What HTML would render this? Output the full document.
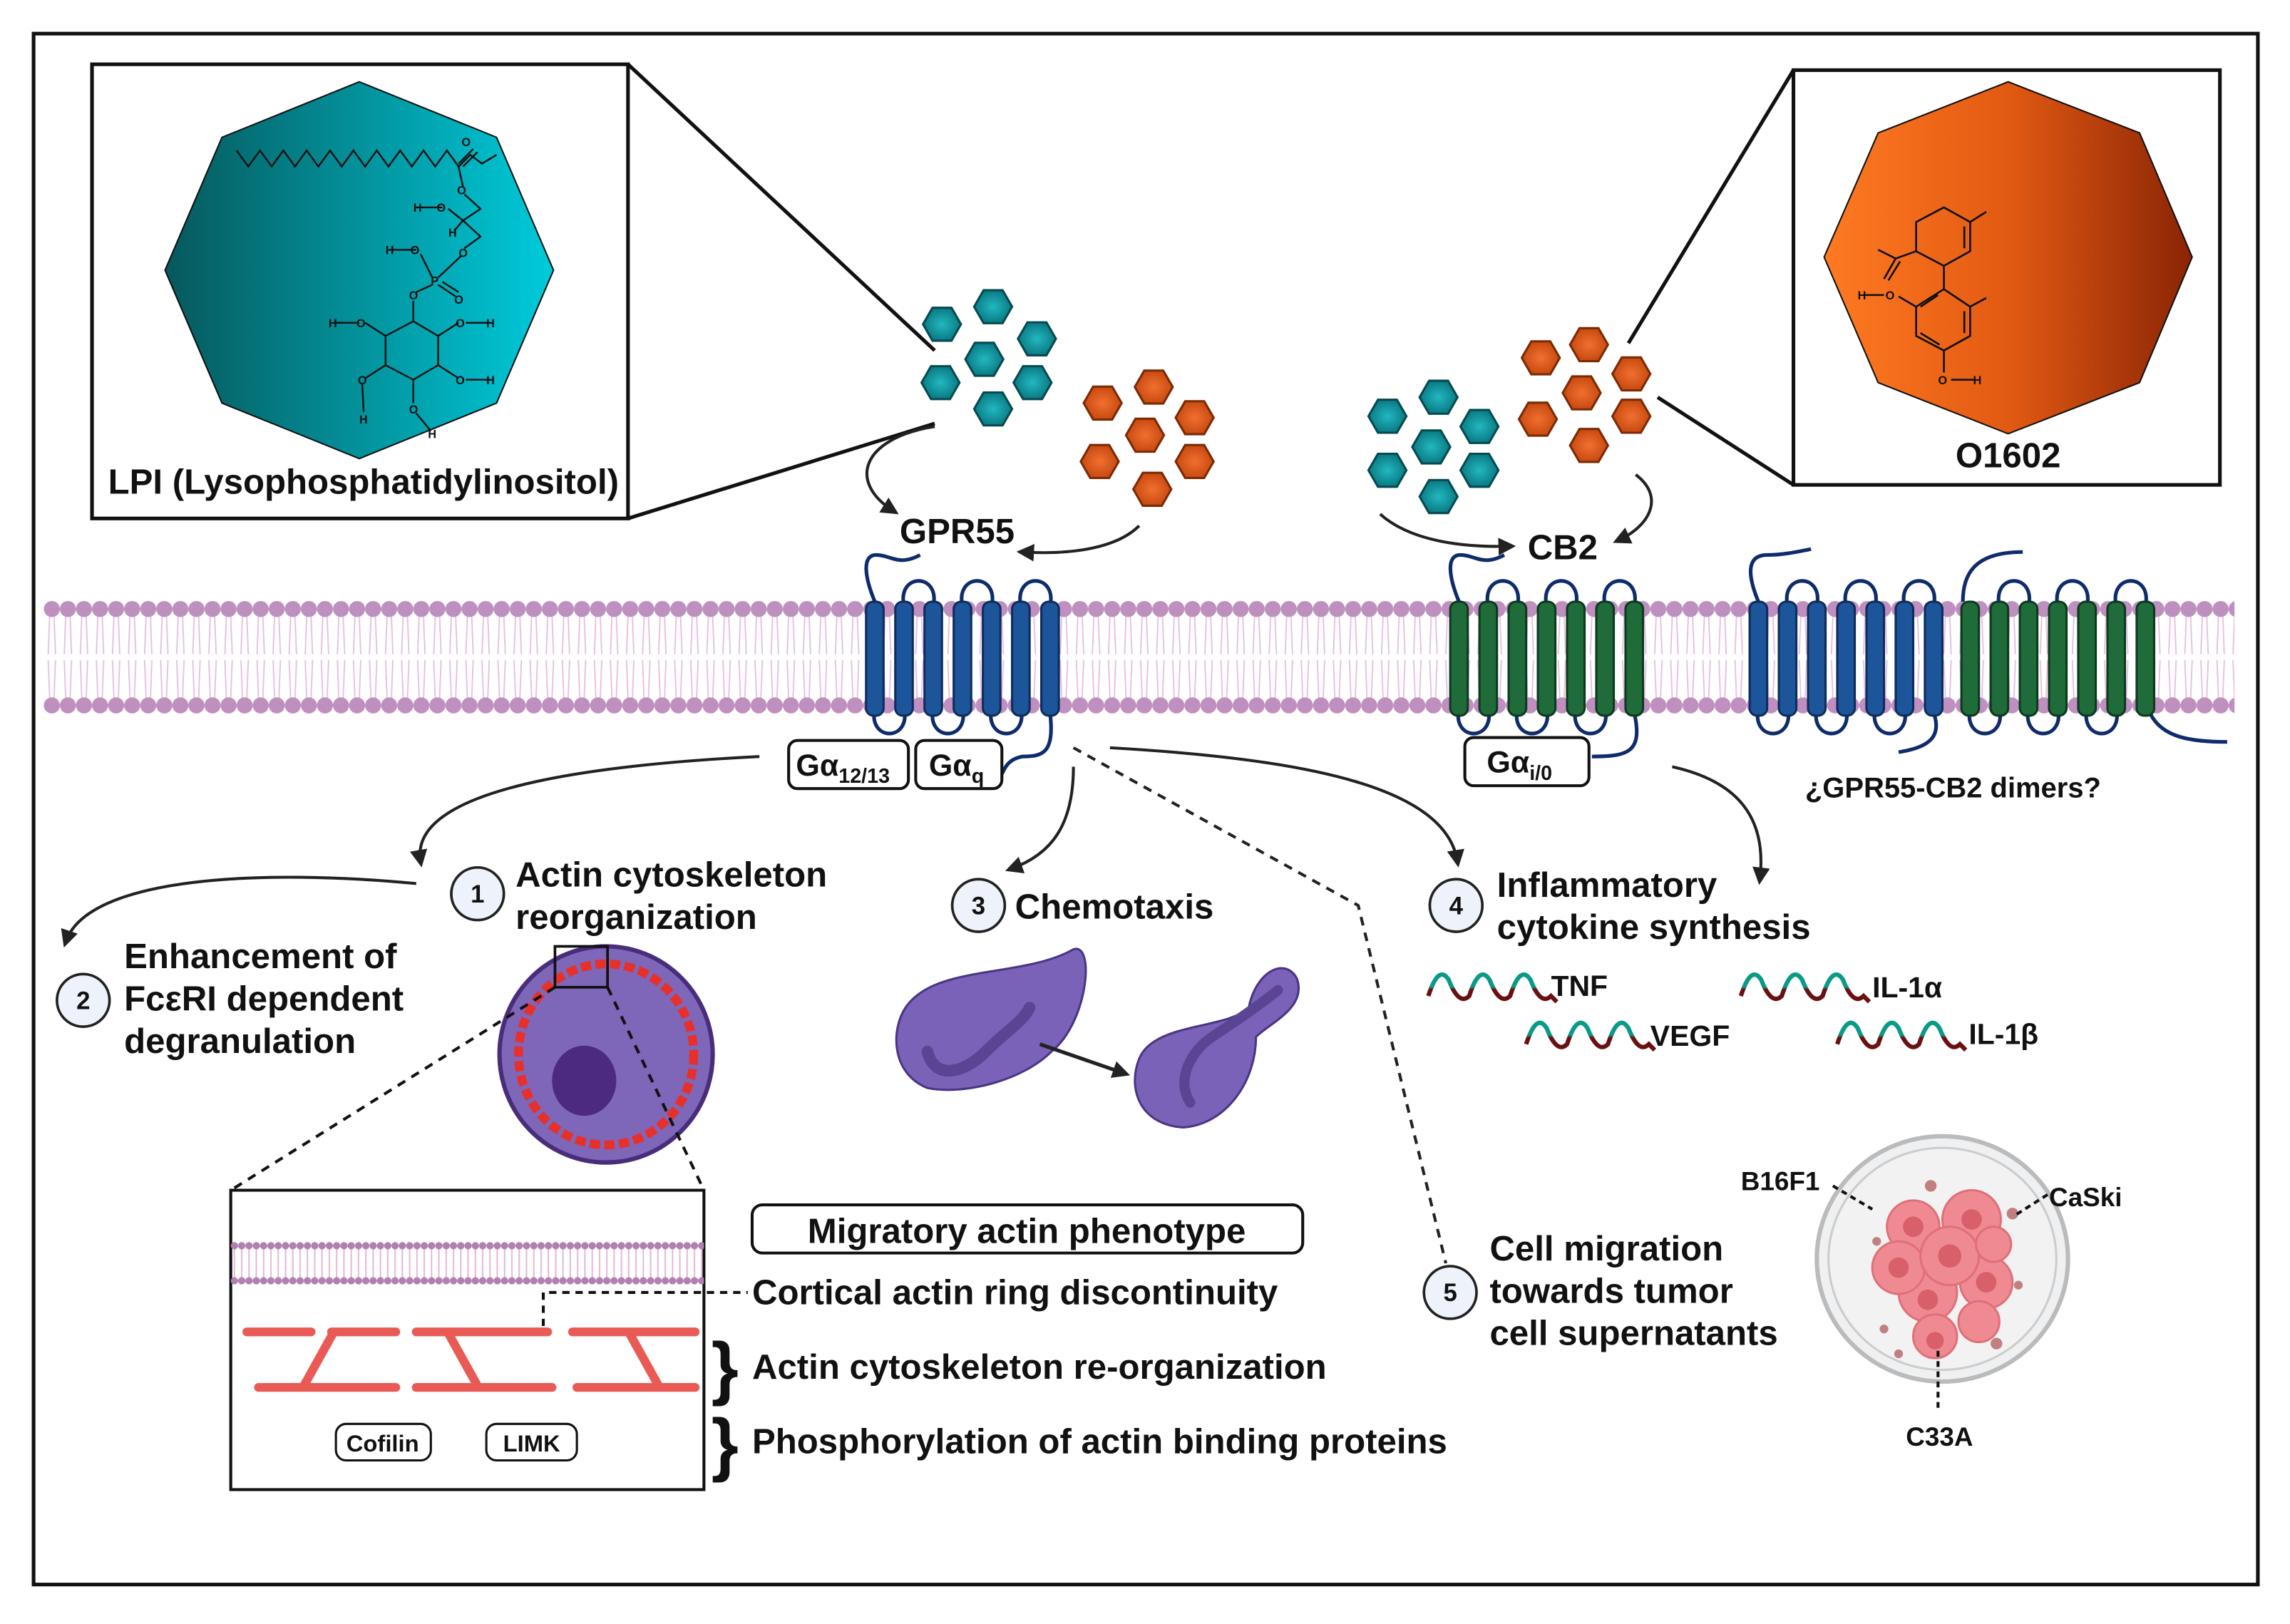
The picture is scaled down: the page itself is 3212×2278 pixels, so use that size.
<!DOCTYPE html>
<html><head><meta charset="utf-8"><style>html,body{margin:0;padding:0;background:#fff}svg{display:block}text{font-family:"Liberation Sans",sans-serif;font-weight:bold;fill:#111}</style></head><body>
<svg width="3212" height="2278" viewBox="0 0 1568 1112" xmlns="http://www.w3.org/2000/svg">
<defs>
<linearGradient id="tg" x1="0" x2="1"><stop offset="0" stop-color="#06585c"/><stop offset="1" stop-color="#00cbdb"/></linearGradient>
<linearGradient id="og" x1="0" x2="1"><stop offset="0" stop-color="#ff7a22"/><stop offset="0.5" stop-color="#e25a12"/><stop offset="1" stop-color="#8a2405"/></linearGradient>
<linearGradient id="wg" x1="0" y1="0" x2="0" y2="1"><stop offset="0.45" stop-color="#0a9a88"/><stop offset="0.55" stop-color="#6a1010"/></linearGradient>
<radialGradient id="hx"><stop offset="0" stop-color="#22b8c0"/><stop offset="1" stop-color="#0a7a84"/></radialGradient>
<radialGradient id="ho"><stop offset="0" stop-color="#f07030"/><stop offset="1" stop-color="#c84a10"/></radialGradient>
<polygon id="h" points="13,0 6.5,11.3 -6.5,11.3 -13,0 -6.5,-11.3 6.5,-11.3"/>
<pattern id="mem" width="11" height="80" patternUnits="userSpaceOnUse" x="30" y="410">
<path d="M4,12 L3,38 M7,12 L8,38 M3,42 L4,68 M8,42 L7,68" stroke="#e6bde0" stroke-width="0.9" fill="none"/>
<circle cx="5.5" cy="7" r="5.5" fill="#bf8fbf"/><circle cx="5.5" cy="73" r="5.5" fill="#bf8fbf"/></pattern>
<pattern id="mem2" width="5" height="30" patternUnits="userSpaceOnUse" x="158" y="850">
<line x1="2.5" y1="4" x2="2.5" y2="26" stroke="#e2b9dc" stroke-width="1"/><circle cx="2.5" cy="3" r="2.5" fill="#b080b0"/><circle cx="2.5" cy="27" r="2.5" fill="#b080b0"/></pattern>
<marker id="ar" markerWidth="12" markerHeight="12" refX="8" refY="6" orient="auto" markerUnits="userSpaceOnUse"><path d="M0,0 L12,6 L0,12 z" fill="#222"/></marker>
<g id="rc">
<path d="M619,415 C614,392 644,392 639,415 M659,415 C654,392 684,392 679,415 M699,415 C694,392 724,392 719,415 M599,485 C594,508 624,508 619,485 M639,485 C634,508 664,508 659,485 M679,485 C674,508 704,508 699,485" stroke="#0e2c6c" stroke-width="2.5" fill="none"/>
</g>
<g id="bars">
<rect x="593" y="412" width="12" height="78" rx="5"/><rect x="613" y="412" width="12" height="78" rx="5"/><rect x="633" y="412" width="12" height="78" rx="5"/><rect x="653" y="412" width="12" height="78" rx="5"/><rect x="673" y="412" width="12" height="78" rx="5"/><rect x="693" y="412" width="12" height="78" rx="5"/><rect x="713" y="412" width="12" height="78" rx="5"/>
</g>
</defs>
<rect x="23" y="23" width="1523" height="1062" fill="none" stroke="#111" stroke-width="2.5"/>
<!-- LPI box -->
<line x1="430" y1="44" x2="640" y2="240" stroke="#111" stroke-width="2.5"/>
<line x1="430" y1="355" x2="640" y2="290" stroke="#111" stroke-width="2.5"/>
<rect x="63" y="44" width="367" height="311" fill="#fff" stroke="#111" stroke-width="2.5"/>
<polygon points="246,56 340,94 379,185 340,276 246,314 152,276 113,185 152,94" fill="url(#tg)" stroke="#111" stroke-width="1"/>
<g stroke="#111" stroke-width="1.2" fill="none">
<path d="M162,103 l8,11 l8,-11 l8,11 l8,-11 l8,11 l8,-11 l8,11 l8,-11 l8,11 l8,-11 l8,11 l8,-11 l8,11 l8,-11 l8,11 l8,-11 l8,11 l8,-11 l8,11 l8,-8 l8,6 l10,-6"/>
<path d="M314,112 l10,-10 M317,114 l10,-10"/>
<path d="M314,114 L317,128 M318,133 L329,143 L317,151 L329,162 L318,170 M317,151 L307,143 M303,142 L285,142 M317,151 L311,158"/>
<path d="M316,175 L300,190 M296,190 L288,174 M285,171 L266,171 M300,195 L312,203 M303,193 L314,200 M296,195 L285,200 M283,206 L283,220"/>
<path d="M283,220 L300,230 L300,250 L283,260 L264,250 L264,230 Z"/>
<path d="M300,230 L314,221 M319,221 L336,221 M264,230 L250,221 M246,221 L229,221 M300,250 L314,259 M319,260 L336,260 M264,250 L250,259 M248,263 L249,282 M283,260 L283,276 M285,283 L295,295"/></g>
<g font-size="8" font-weight="bold"><text x="316" y="100">O</text><text x="313" y="133">O</text><text x="283" y="145">H</text><text x="299" y="145">O</text><text x="307" y="162">H</text><text x="264" y="174">H</text><text x="281" y="174">O</text><text x="314" y="176">O</text><text x="295" y="195">P</text><text x="311" y="208">O</text><text x="280" y="205">O</text><text x="312" y="224">O</text><text x="333" y="224">H</text><text x="244" y="224">O</text><text x="225" y="224">H</text><text x="312" y="263">O</text><text x="333" y="263">H</text><text x="245" y="263">O</text><text x="246" y="290">H</text><text x="280" y="283">O</text><text x="293" y="300">H</text></g>
<text x="74" y="338" font-size="24">LPI (Lysophosphatidylinositol)</text>
<!-- O1602 box -->
<line x1="1228" y1="48" x2="1115" y2="235" stroke="#111" stroke-width="2.5"/>
<line x1="1228" y1="332" x2="1135" y2="272" stroke="#111" stroke-width="2.5"/>
<rect x="1228" y="48" width="292" height="284" fill="#fff" stroke="#111" stroke-width="2.5"/>
<polygon points="1375,56 1465,91 1501,176 1465,262 1375,297 1286,262 1249,176 1286,91" fill="url(#og)" stroke="#111" stroke-width="1"/>
<g stroke="#111" stroke-width="1.3" fill="none">
<path d="M1331,142 L1349,152 L1349,172 L1331,182 L1312,172 L1312,152 Z M1345,155 L1345,170 M1349,152 L1360,145 M1331,182 L1331,198"/>
<path d="M1331,198 L1349,210 L1349,230 L1331,240 L1312,230 L1312,210 Z M1327,202 L1315,210 M1345,213 L1345,228 M1328,236 L1315,228 M1349,210 L1360,204 M1312,210 L1300,203 M1290,202 L1276,202 M1331,240 L1331,255 M1336,260 L1352,260"/>
<path d="M1312,172 L1298,177 L1286,171 M1298,177 L1290,191 M1301,179 L1293,192"/></g>
<g font-size="8"><text x="1291" y="205">O</text><text x="1272" y="205">H</text><text x="1327" y="263">O</text><text x="1351" y="263">H</text></g>
<text x="1375" y="320" font-size="24" text-anchor="middle">O1602</text>
<!-- hexagons -->
<g fill="url(#hx)" stroke="#064a50" stroke-width="1.5">
<use href="#h" x="645" y="222"/><use href="#h" x="680" y="210"/><use href="#h" x="710" y="232"/><use href="#h" x="674" y="246"/><use href="#h" x="644" y="262"/><use href="#h" x="707" y="262"/><use href="#h" x="680" y="280"/>
<use href="#h" x="950" y="285"/><use href="#h" x="985" y="272"/><use href="#h" x="1013" y="292"/><use href="#h" x="980" y="306"/><use href="#h" x="950" y="322"/><use href="#h" x="1013" y="322"/><use href="#h" x="985" y="340"/></g>
<g fill="url(#ho)" stroke="#7a2a05" stroke-width="1.5">
<use href="#h" x="755" y="276"/><use href="#h" x="790" y="265"/><use href="#h" x="818" y="286"/><use href="#h" x="784" y="298"/><use href="#h" x="753" y="316"/><use href="#h" x="818" y="316"/><use href="#h" x="789" y="335"/>
<use href="#h" x="1055" y="245"/><use href="#h" x="1088" y="236"/><use href="#h" x="1117" y="256"/><use href="#h" x="1083" y="269"/><use href="#h" x="1053" y="287"/><use href="#h" x="1117" y="285"/><use href="#h" x="1088" y="305"/></g>
<g stroke="#222" stroke-width="2" fill="none" marker-end="url(#ar)">
<path d="M640,292 C590,300 580,330 612,350"/><path d="M780,360 C765,375 735,380 700,378"/>
<path d="M945,352 C965,370 1000,375 1034,374"/><path d="M1120,325 C1140,340 1130,360 1108,370"/></g>
<text x="616" y="372" font-size="24">GPR55</text>
<text x="1046" y="383" font-size="24">CB2</text>
<!-- membrane -->
<rect x="30" y="410" width="1500" height="80" fill="url(#mem)"/>
<!-- termini -->
<g stroke="#0e2c6c" stroke-width="2.5" fill="none">
<path d="M599,412 C592,395 590,380 600,380 C610,380 615,388 630,380"/><path d="M719,488 C722,515 715,518 700,518 C690,520 688,526 686,530"/>
<path d="M999,412 C992,395 990,380 1000,380 C1010,380 1015,388 1030,380"/><path d="M1119,488 C1125,515 1115,518 1090,518"/>
<path d="M1204,412 C1197,395 1195,380 1210,380 C1220,380 1230,378 1240,376"/><path d="M1344,412 C1344,395 1350,378 1385,378"/>
<path d="M1472,488 C1480,505 1500,508 1525,508"/><path d="M1324,488 C1330,505 1320,512 1300,515"/>
</g>
<use href="#rc"/><g fill="#1c5599" stroke="#0e2c5c" stroke-width="1.5"><use href="#bars"/></g>
<g transform="translate(400,0)"><use href="#rc"/><g fill="#1f6b3a" stroke="#0c3a1e" stroke-width="1.5"><use href="#bars"/></g></g>
<g transform="translate(605,0)"><use href="#rc"/><g fill="#1c5599" stroke="#0e2c5c" stroke-width="1.5"><use href="#bars"/></g></g>
<g transform="translate(750,0)"><use href="#rc"/><g fill="#1f6b3a" stroke="#0c3a1e" stroke-width="1.5"><use href="#bars"/></g></g>
<!-- G alpha boxes -->
<g fill="#fff" stroke="#111" stroke-width="2"><rect x="540" y="507" width="82" height="33" rx="6"/><rect x="627" y="507" width="59" height="33" rx="6"/><rect x="1003" y="505" width="85" height="33" rx="6"/></g>
<text x="545" y="531" font-size="21">Gα<tspan font-size="14" dy="5">12/13</tspan></text>
<text x="636" y="531" font-size="21">Gα<tspan font-size="14" dy="5">q</tspan></text>
<text x="1018" y="529" font-size="21">Gα<tspan font-size="14" dy="5">i/0</tspan></text>
<text x="1236" y="546" font-size="19.5">¿GPR55-CB2 dimers?</text>
<!-- pathway arrows -->
<g stroke="#222" stroke-width="2" fill="none" marker-end="url(#ar)">
<path d="M520,518 C380,525 280,545 288,590"/><path d="M285,605 C180,595 60,600 45,645"/>
<path d="M735,525 C735,565 720,585 692,595"/><path d="M760,512 C900,520 990,540 998,590"/>
<path d="M1145,525 C1190,535 1210,560 1205,602"/></g>
<path d="M735,512 L930,620 L990,865" stroke="#222" stroke-width="2" fill="none" stroke-dasharray="6,5"/>
<!-- numbered circles -->
<g fill="#eef3fb" stroke="#222" stroke-width="1.8"><circle cx="327" cy="612" r="18"/><circle cx="57" cy="685" r="18"/><circle cx="670" cy="620" r="18"/><circle cx="997" cy="620" r="18"/><circle cx="993" cy="885" r="18"/></g>
<g font-size="17" text-anchor="middle"><text x="327" y="618">1</text><text x="57" y="691">2</text><text x="670" y="626">3</text><text x="997" y="626">4</text><text x="993" y="891">5</text></g>
<g font-size="24">
<text x="353" y="607">Actin cytoskeleton</text><text x="353" y="636">reorganization</text>
<text x="85" y="663">Enhancement of</text><text x="85" y="692">FcεRI dependent</text><text x="85" y="721">degranulation</text>
<text x="695" y="629">Chemotaxis</text>
<text x="1025" y="614">Inflammatory</text><text x="1025" y="643">cytokine synthesis</text>
<text x="1020" y="863">Cell migration</text><text x="1020" y="892">towards tumor</text><text x="1020" y="921">cell supernatants</text>
</g>
<!-- actin cell -->
<ellipse cx="415" cy="722" rx="73" ry="74" fill="#7e66b8" stroke="#4a2d7a" stroke-width="3"/>
<ellipse cx="415" cy="722" rx="60" ry="62" fill="none" stroke="#e8302a" stroke-width="6" stroke-dasharray="7,3"/>
<ellipse cx="400" cy="740" rx="22" ry="24" fill="#4c2a80"/>
<rect x="380" y="648" width="36" height="28" fill="none" stroke="#111" stroke-width="1.8"/>
<g stroke="#111" stroke-width="2" stroke-dasharray="6,5"><line x1="380" y1="676" x2="158" y2="815"/><line x1="416" y1="676" x2="482" y2="815"/></g>
<!-- inset -->
<rect x="158" y="815" width="324" height="205" fill="#fff" stroke="#111" stroke-width="2"/>
<rect x="158" y="850" width="324" height="30" fill="url(#mem2)"/>
<g stroke="#ea5a55" stroke-width="6" stroke-linecap="round">
<line x1="169" y1="912" x2="213" y2="912"/><line x1="227" y1="912" x2="271" y2="912"/><line x1="285" y1="912" x2="375" y2="912"/><line x1="392" y1="912" x2="476" y2="912"/>
<line x1="177" y1="950" x2="271" y2="950"/><line x1="285" y1="950" x2="378" y2="950"/><line x1="395" y1="950" x2="476" y2="950"/>
<line x1="228" y1="913" x2="208" y2="949"/><line x1="307" y1="913" x2="327" y2="949"/><line x1="431" y1="913" x2="451" y2="949"/></g>
<path d="M372,908 L372,885 L512,885" stroke="#111" stroke-width="2" fill="none" stroke-dasharray="5,4"/>
<rect x="230" y="975" width="65" height="25" rx="7" fill="#fff" stroke="#111" stroke-width="1.5"/>
<rect x="333" y="975" width="62" height="25" rx="7" fill="#fff" stroke="#111" stroke-width="1.5"/>
<text x="262" y="994" font-size="16" font-weight="normal" text-anchor="middle">Cofilin</text>
<text x="364" y="994" font-size="16" font-weight="normal" text-anchor="middle">LIMK</text>
<rect x="515" y="825" width="377" height="33" rx="7" fill="#fff" stroke="#111" stroke-width="2"/>
<g font-size="24"><text x="553" y="851">Migratory actin phenotype</text>
<text x="515" y="893">Cortical actin ring discontinuity</text>
<text x="515" y="944">Actin cytoskeleton re-organization</text>
<text x="515" y="995">Phosphorylation of actin binding proteins</text></g>
<g font-size="48" font-weight="normal"><text x="487" y="953">}</text><text x="487" y="1005">}</text></g>
<!-- chemotaxis cells -->
<path d="M620,690 C640,660 700,670 735,650 C750,645 745,700 720,720 C700,740 660,750 635,745 C610,735 610,705 620,690 z" fill="#7a62b8" stroke="#4a3585" stroke-width="1.5"/>
<path d="M635,720 C640,740 660,735 675,720 C690,705 700,700 705,690" stroke="#5a4595" stroke-width="8" fill="none" stroke-linecap="round"/>
<path d="M780,725 C790,700 840,705 855,690 C860,665 880,655 888,670 C895,690 870,700 860,710 C860,740 840,770 810,772 C780,770 772,745 780,725 z" fill="#7a62b8" stroke="#4a3585" stroke-width="1.5"/>
<path d="M815,755 C805,740 815,720 830,710 C845,700 860,690 875,678" stroke="#5a4595" stroke-width="7" fill="none" stroke-linecap="round"/>
<line x1="712" y1="715" x2="770" y2="735" stroke="#222" stroke-width="2.5" marker-end="url(#ar)"/>
<!-- cytokine waves -->
<g stroke="url(#wg)" stroke-width="3" fill="none">
<path d="M978,682 q7,-22 14,-11 q7,18 14,11 q7,-22 14,-11 q7,18 14,11 q7,-22 14,-11 q7,18 14,11 l4,4"/>
<path d="M1045,715 q7,-22 14,-11 q7,18 14,11 q7,-22 14,-11 q7,18 14,11 q7,-22 14,-11 q7,18 14,11 l4,4"/>
<path d="M1192,682 q7,-22 14,-11 q7,18 14,11 q7,-22 14,-11 q7,18 14,11 q7,-22 14,-11 q7,18 14,11 l4,4"/>
<path d="M1258,715 q7,-22 14,-11 q7,18 14,11 q7,-22 14,-11 q7,18 14,11 q7,-22 14,-11 q7,18 14,11 l4,4"/></g>
<g font-size="20"><text x="1062" y="682">TNF</text><text x="1130" y="716">VEGF</text><text x="1282" y="683">IL-1α</text><text x="1348" y="715">IL-1β</text></g>
<!-- petri dish -->
<ellipse cx="1330" cy="862" rx="86" ry="84" fill="#eef0f2" stroke="#bbb" stroke-width="3"/>
<ellipse cx="1330" cy="862" rx="78" ry="76" fill="#f2f2f3" stroke="#ccc" stroke-width="1.5"/>
<g fill="#ef8a92" stroke="#e07078" stroke-width="1.5">
<circle cx="1310" cy="840" r="18"/><circle cx="1350" cy="835" r="20"/><circle cx="1320" cy="885" r="20"/><circle cx="1300" cy="868" r="18"/><circle cx="1360" cy="878" r="18"/><circle cx="1335" cy="860" r="20"/><circle cx="1355" cy="905" r="14"/><circle cx="1325" cy="915" r="15"/><circle cx="1365" cy="852" r="12"/></g>
<g fill="#d8606a"><circle cx="1310" cy="840" r="7"/><circle cx="1350" cy="835" r="7"/><circle cx="1300" cy="868" r="7"/><circle cx="1335" cy="860" r="8"/><circle cx="1320" cy="890" r="7"/><circle cx="1360" cy="878" r="7"/><circle cx="1325" cy="918" r="6"/></g>
<g fill="#c08080"><circle cx="1322" cy="812" r="4"/><circle cx="1378" cy="831" r="4"/><circle cx="1367" cy="920" r="4"/><circle cx="1285" cy="850" r="3"/><circle cx="1382" cy="880" r="3"/><circle cx="1290" cy="910" r="3"/><circle cx="1300" cy="927" r="3"/></g>
<g stroke="#111" stroke-width="2" stroke-dasharray="4,3" fill="none"><path d="M1255,812 L1282,828"/><path d="M1402,818 L1380,832"/><path d="M1327,925 L1327,965"/></g>
<g font-size="18"><text x="1192" y="815">B16F1</text><text x="1403" y="826">CaSki</text><text x="1305" y="990">C33A</text></g>
</svg>
</body></html>
